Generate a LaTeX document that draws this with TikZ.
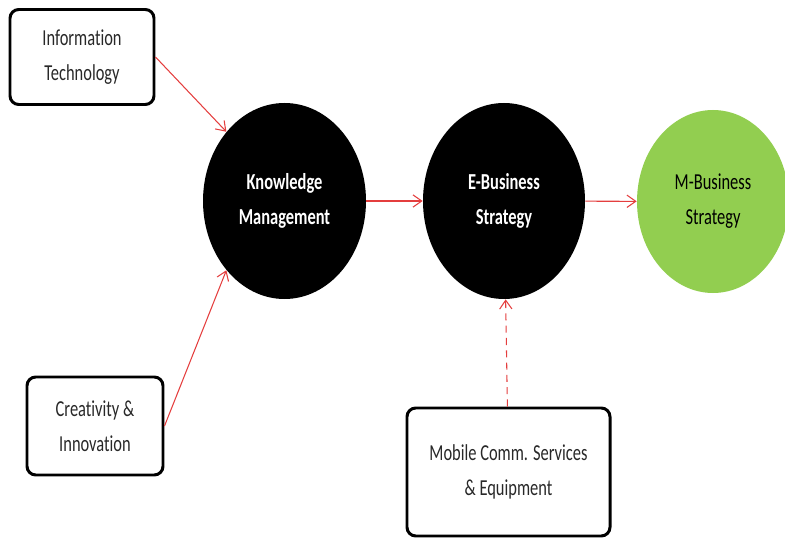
\documentclass[tikz,border=0pt]{standalone}
\usepackage{fontspec}
\setmainfont{Carlito}[FakeStretch=0.72, Ligatures={NoCommon}]
\usepackage{tikz}
\usetikzlibrary{
    shapes.geometric,
    arrows.meta
}
\definecolor{flechared}{RGB}{228,62,62}
\definecolor{mgreen}{RGB}{146,206,80}
\definecolor{boxtext}{RGB}{40,40,40}
\tikzset{
    >={Straight Barb[length=5pt,width=7pt]},
    caja/.style={
        draw=black,
        line width=1.7pt,
        rounded corners=5pt,
        align=center,
        text=boxtext,
        font=\fontsize{13pt}{20pt}\selectfont
    },
    circulo/.style={
        ellipse,
        inner sep=0pt,
        align=center,
        font=\fontsize{13pt}{20pt}\selectfont
    },
    flecha/.style={
        ->,
        draw=flechared,
        line width=0.6pt
    }
}

\begin{document}
\begin{tikzpicture}

    \clip (0,0) rectangle (15.7,10.76);

    % Nodos
    \node[caja, minimum width=2.88cm, minimum height=1.9cm]
        (it)  at (1.64,9.62)  {Information\\Technology};
    \node[caja, minimum width=2.72cm, minimum height=1.96cm]
        (ci)  at (1.9,2.24)   {Creativity \&\\Innovation};
    \node[caja, minimum width=4.06cm, minimum height=2.56cm]
        (mob) at (10.17,1.32) {Mobile Comm. Services\\\& Equipment};

    \node[circulo, fill=black, text=white, font=\fontsize{13pt}{20pt}\selectfont\bfseries,
        minimum width=3.26cm, minimum height=3.92cm]
        (km)  at (5.69,6.74)  {Knowledge\\Management};
    \node[circulo, fill=black, text=white, font=\fontsize{13pt}{20pt}\selectfont\bfseries,
        minimum width=3.24cm, minimum height=3.92cm]
        (eb)  at (10.08,6.74) {E-Business\\Strategy};
    \node[circulo, fill=mgreen, text=black,
        minimum width=3.04cm, minimum height=3.66cm]
        (mb)  at (14.26,6.73) {M-Business\\Strategy};

    % Conexiones
    \path
        (it.east) edge[flecha] (km.130)
        (ci.east) edge[flecha] (km.230)
        (km)      edge[flecha] (eb)
        (eb)      edge[flecha] (mb)
        (mob)     edge[flecha, dash pattern=on 4pt off 3pt] (eb);

\end{tikzpicture}
\end{document}
